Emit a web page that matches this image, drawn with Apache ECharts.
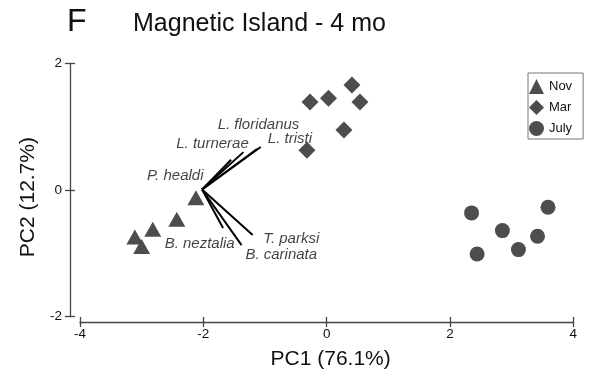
<!DOCTYPE html>
<html>
<head>
<meta charset="utf-8">
<script src="https://cdn.jsdelivr.net/npm/echarts@6/dist/echarts.min.js"></script>
<style>
  html, body { margin: 0; padding: 0; background: #fff; }
  #chart { width: 596px; height: 376px; }
</style>
</head>
<body>
<div id="chart"></div>
<script>
// PCA scores by sampling month
var novPC1 = [-2.12, -2.43, -2.82, -3.11, -3.00];
var novPC2 = [-0.12, -0.46, -0.62, -0.74, -0.89];
var marPC1 = [-0.27, 0.03, 0.41, 0.54, 0.28, -0.32];
var marPC2 = [1.39, 1.45, 1.66, 1.39, 0.95, 0.63];
var julPC1 = [2.35, 3.59, 2.85, 3.42, 3.11, 2.44];
var julPC2 = [-0.36, -0.27, -0.64, -0.73, -0.94, -1.01];

// Species loading vectors (drawn from a common origin)
var species = ['L. floridanus', 'L. tristi', 'L. turnerae', 'P. healdi', 'B. neztalia', 'T. parksi', 'B. carinata'];
var vecOrigin = [-2.02, 0.01];
var vecEndPC1 = [-1.13, -1.07, -1.35, -1.55, -1.68, -1.20, -1.38];
var vecEndPC2 = [0.65, 0.68, 0.60, 0.48, -0.60, -0.71, -0.87];
// Where each species name sits (score space)
var nameAtPC1 = [-1.105, -0.595, -1.851, -2.455, -2.059, -0.575, -0.736];
var nameAtPC2 = [1.027, 0.806, 0.730, 0.221, -0.853, -0.763, -1.027];

var axisTicks = [-4, -2, 0, 2, 4];
var groups = ['Nov', 'Mar', 'July'];

var FONT = "'Liberation Sans', Arial, Helvetica, sans-serif";
var INK = '#4d4d4d';

function pairs(xs, ys) {
  return xs.map(function (x, i) { return [x, ys[i]]; });
}

var chart = echarts.init(document.getElementById('chart'), null, { renderer: 'canvas' });

function axisPair(dim, offset, name, nameGap, namePad) {
  var lo = dim === 'x' ? axisTicks[0] : -2;
  var hi = dim === 'x' ? axisTicks[axisTicks.length - 1] : 2;
  var main = {
    type: 'value', min: lo, max: hi, interval: 2,
    position: dim === 'x' ? 'bottom' : 'left',
    offset: offset,
    axisLine: { show: true, onZero: false, lineStyle: { color: '#444', width: 1.3 } },
    axisTick: { show: true, inside: false, length: 5, lineStyle: { color: '#444', width: 1.3 } },
    axisLabel: { fontFamily: FONT, fontSize: 13.5, color: '#111', margin: dim === 'x' ? 5 : 8 },
    splitLine: { show: false },
    name: name, nameLocation: 'middle', nameGap: nameGap,
    nameTextStyle: { fontFamily: FONT, fontSize: 21, color: '#111', padding: namePad }
  };
  // inward half of the tick marks
  var inner = {
    type: 'value', min: lo, max: hi, interval: 2,
    position: dim === 'x' ? 'bottom' : 'left',
    offset: offset,
    axisLine: { show: false, onZero: false },
    axisTick: { show: true, inside: true, length: 5, lineStyle: { color: '#444', width: 1.3 } },
    axisLabel: { show: false },
    splitLine: { show: false }
  };
  return [main, inner];
}

var option = {
  animation: false,
  backgroundColor: '#fff',
  title: [
    { text: 'F', left: 67, top: 6, padding: 0,
      textStyle: { fontFamily: FONT, fontSize: 32, fontWeight: 'normal', color: '#111', lineHeight: 32 } },
    { text: 'Magnetic Island - 4 mo', left: 133, top: 12, padding: 0,
      textStyle: { fontFamily: FONT, fontSize: 25, fontWeight: 'normal', color: '#111', lineHeight: 25 } }
  ],
  legend: {
    orient: 'vertical', left: 528, top: 73,
    data: groups,
    itemWidth: 15, itemHeight: 15, itemGap: 6,
    padding: [6, 11, 3, 1],
    borderColor: '#777', borderWidth: 1,
    textStyle: { fontFamily: FONT, fontSize: 13, color: '#111' }
  },
  grid: { left: 80, right: 22.7, top: 63.5, bottom: 59.3, containLabel: false },
  xAxis: axisPair('x', 5.3, 'PC1 (76.1%)', 27, [0, 0, 0, 8]),
  yAxis: axisPair('y', 10, 'PC2 (12.7%)', 21, [0, 14, 0, 0]),
  series: [
    { name: 'Nov', type: 'scatter', symbol: 'triangle', symbolSize: [17, 15],
      itemStyle: { color: INK, opacity: 1 }, data: pairs(novPC1, novPC2), z: 3 },
    { name: 'Mar', type: 'scatter', symbol: 'diamond', symbolSize: 17,
      itemStyle: { color: INK, opacity: 1 }, data: pairs(marPC1, marPC2), z: 3 },
    { name: 'July', type: 'scatter', symbol: 'circle', symbolSize: 15,
      itemStyle: { color: INK, opacity: 1 }, data: pairs(julPC1, julPC2), z: 3 },
    { type: 'lines', coordinateSystem: 'cartesian2d', silent: true, z: 4,
      lineStyle: { color: '#000', width: 2, opacity: 1 },
      data: species.map(function (s, i) {
        return { coords: [vecOrigin, [vecEndPC1[i], vecEndPC2[i]]] };
      }) },
    { type: 'scatter', silent: true, symbolSize: 0, z: 5,
      label: { show: true, position: 'inside', formatter: function (p) { return p.name; },
               fontFamily: FONT, fontSize: 15, fontStyle: 'italic', color: '#111' },
      data: species.map(function (s, i) { return { name: s, value: [nameAtPC1[i], nameAtPC2[i]] }; }) }
  ]
};

chart.setOption(option);
</script>
</body>
</html>
